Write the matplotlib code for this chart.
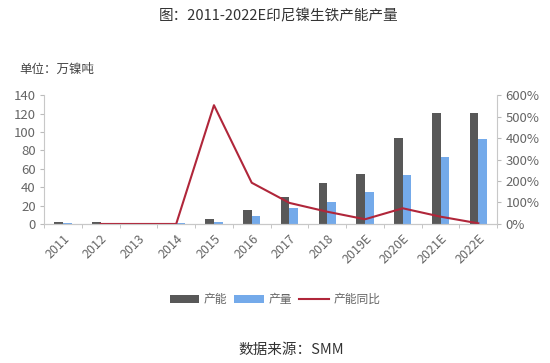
import matplotlib.pyplot as plt
import numpy as np
from matplotlib.ticker import FuncFormatter

plt.rcParams['font.family'] = ['Noto Sans CJK SC', 'DejaVu Sans']

years = ['2011', '2012', '2013', '2014', '2015', '2016', '2017', '2018',
         '2019E', '2020E', '2021E', '2022E']
capacity = [1.8, 1.8, 1.5, 1.5, 5.1, 15.2, 29, 44.8, 54, 93, 120.8, 120.8]
output = [0.8, 0.3, 0.3, 0.8, 1.8, 8.7, 17.7, 24.2, 35, 53, 72.4, 91.9]
cap_yoy = [None, 0, 0, 0, 553, 192, 98, 57, 22, 73, 34, 3]

dark = '#585858'
blue = '#74aaea'
red = '#b0263a'
grey = '#666666'

fig = plt.figure(figsize=(5.5, 3.63), dpi=100)
ax = fig.add_axes([0.08, 0.383, 0.824, 0.355])
ax2 = ax.twinx()

x = np.arange(len(years))
w = 0.23
ax.bar(x - w / 2, capacity, w, color=dark, label='产能', zorder=2)
ax.bar(x + w / 2, output, w, color=blue, label='产量', zorder=2)

yx = [i for i, v in zip(x, cap_yoy) if v is not None]
yv = [v for v in cap_yoy if v is not None]
line, = ax2.plot(yx, yv, color=red, lw=1.5, label='产能同比')

ax.set_xlim(-0.5, len(years) - 0.5)
ax.set_ylim(0, 140)
ax.set_yticks(range(0, 141, 20))
ax2.set_ylim(0, 600)
ax2.set_yticks(range(0, 601, 100))
ax2.yaxis.set_major_formatter(FuncFormatter(lambda v, p: f'{int(v)}%'))

ax.set_xticks(x)
ax.set_xticklabels(years, rotation=45, ha='right', rotation_mode='anchor')
ax.set_xticks(np.arange(-0.5, len(years), 1), minor=True)
ax.tick_params(axis='x', which='major', length=0, labelsize=9, colors=grey, pad=6)
ax.tick_params(axis='x', which='minor', length=3, color='#bbbbbb')
ax.tick_params(axis='y', labelsize=9.5, colors=grey, length=3, color='#bbbbbb', pad=3)
ax2.tick_params(axis='y', labelsize=9.5, colors=grey, length=3, color='#bbbbbb', pad=3)

for a in (ax, ax2):
    a.spines['top'].set_visible(False)
    for s in ('left', 'right', 'bottom'):
        a.spines[s].set_color('#c8c8c8')
        a.spines[s].set_linewidth(0.8)
ax2.spines['left'].set_visible(False)
ax.spines['right'].set_visible(False)

fig.text(0.507, 0.955, '图：2011-2022E印尼镍生铁产能产量', ha='center', va='center',
         fontsize=10.5, color='#333333')
fig.text(0.036, 0.81, '单位：万镍吨', ha='left', va='center', fontsize=9, color='#444444')

handles = [ax.containers[0], ax.containers[1], line]
fig.legend(handles, ['产能', '产量', '产能同比'], loc='center', bbox_to_anchor=(0.5, 0.175),
           ncol=3, frameon=False, fontsize=8.5, handlelength=2.5, handleheight=0.6,
           columnspacing=0.6, handletextpad=0.4, labelcolor=grey)

fig.text(0.53, 0.035, '数据来源：SMM', ha='center', va='center', fontsize=10.5, color='#333333')

plt.savefig('out.png', dpi=100)
